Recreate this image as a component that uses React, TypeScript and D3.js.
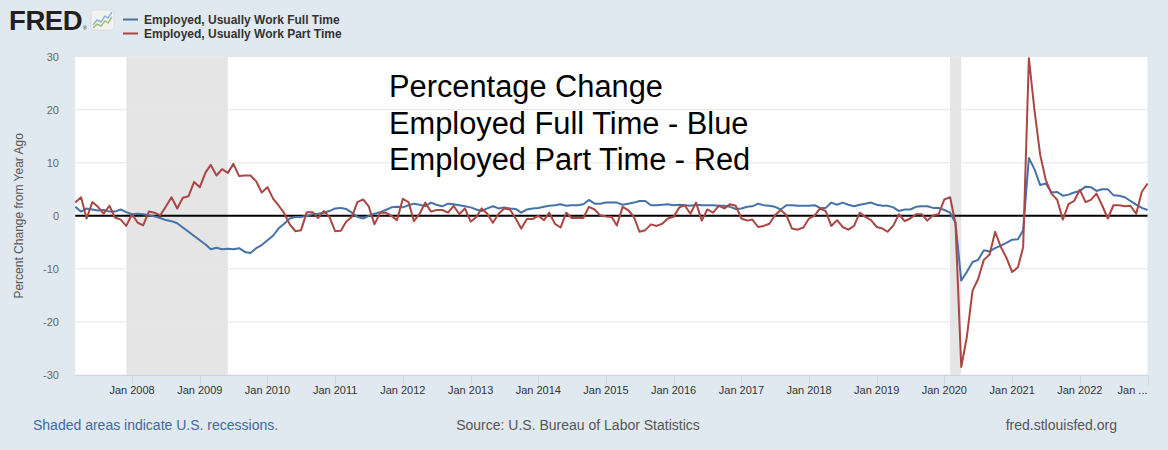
import React from "react";
import * as d3 from "d3";

// ---------- data (percent change from year ago, monthly, Mar 2007 .. Jan 2023) ----------
const startMonth = new Date(2007, 2, 1);
const endMonth = new Date(2023, 0, 1);

const fullTime = [
  1.7, 0.8, 1.4, 1.2, 1.0, 1.1, 0.8, 0.8, 1.2, 0.7,
  0.3, 0.4, 0.3, 0.1, -0.1, -0.4, -0.8, -1.0, -1.4, -2.2, -3.0, -3.8,
  -4.6, -5.4, -6.3, -6.0, -6.3, -6.2, -6.3, -6.1, -6.8, -7.0, -6.1, -5.5,
  -4.6, -3.7, -2.4, -1.5, -0.5, -0.2, -0.2, 0.0, 0.3, 0.4, 0.6, 0.9,
  1.4, 1.5, 1.3, 0.6, -0.2, -0.5, 0.0, 0.4, 0.7, 1.1, 1.6, 1.7,
  1.6, 2.0, 2.3, 2.1, 1.8, 2.5, 2.1, 1.8, 2.3, 2.2, 2.0, 1.8,
  1.6, 1.2, 0.9, 1.4, 1.8, 1.4, 1.6, 1.4, 1.3, 0.6, 1.2, 1.4,
  1.5, 1.7, 1.9, 2.0, 2.2, 1.9, 2.0, 2.0, 2.2, 3.0, 2.3, 2.3,
  2.5, 2.5, 2.5, 2.1, 2.3, 2.5, 2.8, 2.8, 2.0, 2.0, 2.1, 2.2,
  2.0, 2.1, 2.0, 1.9, 2.1, 2.0, 2.0, 2.0, 1.9, 1.9, 1.7, 1.3,
  1.4, 1.7, 1.8, 2.3, 2.0, 1.9, 1.7, 1.2, 2.0, 2.0, 1.9, 1.9,
  1.9, 2.0, 1.5, 1.5, 2.5, 2.1, 2.5, 2.1, 1.8, 2.1, 2.3, 2.5,
  2.1, 1.9, 1.9, 1.6, 0.9, 1.2, 1.2, 1.7, 1.8, 1.8, 1.5, 1.5,
  1.1, 0.6, -1.3, -12.2, -10.6, -8.7, -8.3, -6.5, -6.7, -6.1, -5.6, -5.1,
  -4.5, -4.4, -2.7, 10.9, 8.8, 5.8, 6.1, 4.4, 4.5, 3.8, 4.0, 4.4,
  4.7, 5.5, 5.4, 4.7, 5.0, 5.0, 3.9, 3.8, 3.5, 2.8, 2.1, 1.5,
  1.1,
];

const partTime = [
  2.5, 3.5, -0.5, 2.6, 1.7, 0.4, 1.9, -0.3, -0.7, -1.9,
  0.3, -1.3, -1.8, 0.8, 0.6, 0.1, 1.7, 3.5, 1.4, 3.4, 3.7, 6.4,
  5.4, 8.2, 9.6, 7.6, 8.8, 8.1, 9.8, 7.5, 7.6, 7.6, 6.5, 4.4,
  5.4, 3.2, 2.0, 0.5, -1.6, -2.9, -2.7, 0.7, 0.7, -0.4, 0.9, -0.2,
  -2.9, -2.8, -1.1, -0.2, 2.6, 3.1, 1.8, -1.6, 0.6, 0.6, 0.0, -0.8,
  3.2, 2.6, -1.0, 0.4, 2.5, 0.8, 1.1, 1.1, 0.6, 1.9, 0.3, 1.4,
  -1.1, -0.2, 1.4, 0.4, -1.3, 0.4, 1.4, 1.2, -0.5, -2.4, -0.6, -0.6,
  0.0, -0.8, 0.6, -1.5, -2.2, 0.6, -0.4, -0.4, -0.4, 1.7, 1.2, 0.1,
  -0.1, -0.2, -1.8, 1.7, 1.1, -0.2, -3.0, -2.7, -1.6, -1.9, -1.5, -0.5,
  -0.2, 1.6, 2.0, 0.4, 2.5, -0.9, 1.2, 0.6, 1.9, 1.4, 2.2, 1.9,
  -0.5, -0.9, -0.7, -2.1, -1.9, -1.5, 0.1, 1.1, 0.1, -2.4, -2.6, -2.2,
  -0.5, 0.1, 1.4, 0.9, -1.9, -0.8, -2.1, -2.6, -1.9, 0.6, -0.2, -0.8,
  -2.1, -2.4, -3.0, -1.8, 0.3, -1.0, -0.5, 0.3, 0.3, -0.9, 0.1, 0.3,
  3.1, 3.5, -1.5, -28.5, -22.9, -14.1, -11.9, -8.3, -7.3, -3.0, -5.9, -7.9,
  -10.6, -9.7, -5.9, 29.7, 20.0, 11.5, 6.8, 4.2, 3.0, -0.7, 2.2, 2.8,
  4.9, 2.6, 3.0, 4.2, 2.0, -0.5, 2.0, 2.0, 1.8, 1.9, 0.4, 4.5,
  6.1,
];

const yTicks = [-30, -20, -10, 0, 10, 20, 30];
const xTickYears = [2008, 2009, 2010, 2011, 2012, 2013, 2014, 2015, 2016, 2017, 2018, 2019, 2020, 2021, 2022, 2023];
const xTickLabels = ["Jan 2008", "Jan 2009", "Jan 2010", "Jan 2011", "Jan 2012", "Jan 2013", "Jan 2014", "Jan 2015", "Jan 2016", "Jan 2017", "Jan 2018", "Jan 2019", "Jan 2020", "Jan 2021", "Jan 2022", "Jan ..."];
const recessionStarts = [new Date(2007, 11, 1), new Date(2020, 1, 1)];
const recessionEnds = [new Date(2009, 5, 1), new Date(2020, 3, 1)];
const seriesNames = ["Employed, Usually Work Full Time", "Employed, Usually Work Part Time"];
const annotationLines = ["Percentage Change", "Employed Full Time - Blue", "Employed Part Time - Red"];

// ---------- layout ----------
const W = 1168;
const H = 450;
const plot = { left: 75.3, right: 1147.5, top: 56.7, bottom: 375 };
const BLUE = "#4572a7";
const RED = "#aa4643";
const FONT = "'Liberation Sans', Arial, sans-serif";

export default function App() {
  const dates = fullTime.map((_, i) => d3.timeMonth.offset(startMonth, i));
  const x = d3.scaleTime().domain([startMonth, endMonth]).range([plot.left, plot.right]);
  const y = d3.scaleLinear().domain([-30, 30]).range([plot.bottom, plot.top]);
  const line = d3
    .line<number>()
    .x((_, i) => x(dates[i]))
    .y((d) => y(d));

  return (
    <div style={{ position: "fixed", left: 0, top: 0 }}>
      <svg width={W} height={H} style={{ display: "block" }} fontFamily={FONT}>
        <rect x={0} y={0} width={W} height={H} fill="#e1e9f0" />

        {/* FRED logo */}
        <text x={9} y={29.5} fontSize={27.5} fontWeight={900} fill="#231f20" letterSpacing={-0.4}>
          FRED
        </text>
        <text x={83} y={30} fontSize={5} fill="#231f20">®</text>
        <rect x={91} y={10} width={23} height={20} rx={2} fill="#f2f2f2" stroke="#d0d0d0" strokeWidth={0.6} />
        <polyline points="93,25 97,20 101,22 105,16 108,18 112,12" fill="none" stroke="#8fb0d6" strokeWidth={1.4} />
        <polyline points="93,28 97,24 101,26 105,21 108,23 112,17" fill="none" stroke="#9bc36b" strokeWidth={1.4} />

        {/* legend */}
        <line x1={123} x2={138} y1={19.5} y2={19.5} stroke={BLUE} strokeWidth={2} />
        <text x={144} y={24} fontSize={12} fontWeight="bold" fill="#333">
          {seriesNames[0]}
        </text>
        <line x1={123} x2={138} y1={33.5} y2={33.5} stroke={RED} strokeWidth={2} />
        <text x={144} y={38} fontSize={12} fontWeight="bold" fill="#333">
          {seriesNames[1]}
        </text>

        {/* plot background */}
        <rect x={plot.left} y={plot.top} width={plot.right - plot.left} height={plot.bottom - plot.top} fill="#ffffff" />

        {/* recessions */}
        {recessionStarts.map((s, i) => (
          <rect
            key={"r" + i}
            x={x(s)}
            y={plot.top}
            width={x(recessionEnds[i]) - x(s)}
            height={plot.bottom - plot.top}
            fill="#e5e5e5"
          />
        ))}

        {/* grid */}
        {yTicks.map((t) => (
          <line key={"g" + t} x1={plot.left} x2={plot.right} y1={y(t)} y2={y(t)} stroke="#e6e6e6" strokeWidth={1} />
        ))}

        {/* y labels */}
        {yTicks.map((t) => (
          <text key={"yl" + t} x={59} y={y(t) + 4} fontSize={11} fill="#666" textAnchor="end">
            {t}
          </text>
        ))}
        <text
          transform={`translate(23,${(plot.top + plot.bottom) / 2}) rotate(-90)`}
          fontSize={12}
          fill="#555"
          textAnchor="middle"
        >
          Percent Change from Year Ago
        </text>

        {/* x axis */}
        <line x1={plot.left} x2={plot.right} y1={plot.bottom + 0.5} y2={plot.bottom + 0.5} stroke="#ccd6eb" strokeWidth={1} />
        {xTickYears.map((yr) => {
          const xv = Math.round(x(new Date(yr, 0, 1))) + 0.5;
          return <line key={"t" + yr} x1={xv} x2={xv} y1={plot.bottom} y2={plot.bottom + 10} stroke="#ccd6eb" strokeWidth={1} />;
        })}
        {xTickYears.map((yr, i) => {
          const last = i === xTickYears.length - 1;
          const xv = x(new Date(yr, 0, 1));
          return (
            <text
              key={"xl" + yr}
              x={last ? plot.right : xv}
              y={394}
              fontSize={11}
              fill="#333"
              textAnchor={last ? "end" : "middle"}
            >
              {xTickLabels[i]}
            </text>
          );
        })}

        {/* zero line */}
        <line x1={plot.left} x2={plot.right} y1={y(0)} y2={y(0)} stroke="#000" strokeWidth={2} />

        {/* series */}
        <path d={line(fullTime) || ""} fill="none" stroke={BLUE} strokeWidth={2} strokeLinejoin="round" />
        <path d={line(partTime) || ""} fill="none" stroke={RED} strokeWidth={2} strokeLinejoin="round" />

        {/* annotation */}
        {annotationLines.map((s, i) => (
          <text key={"a" + i} x={389} y={97 + i * 36.5} fontSize={30.8} fill="#000">
            {s}
          </text>
        ))}

        {/* footer */}
        <text x={33} y={430} fontSize={14} fill="#3e6a9f">
          Shaded areas indicate U.S. recessions.
        </text>
        <text x={578} y={430} fontSize={14} fill="#555" textAnchor="middle">
          Source: U.S. Bureau of Labor Statistics
        </text>
        <text x={1117} y={430} fontSize={14} fill="#555" textAnchor="end">
          fred.stlouisfed.org
        </text>
      </svg>
    </div>
  );
}
